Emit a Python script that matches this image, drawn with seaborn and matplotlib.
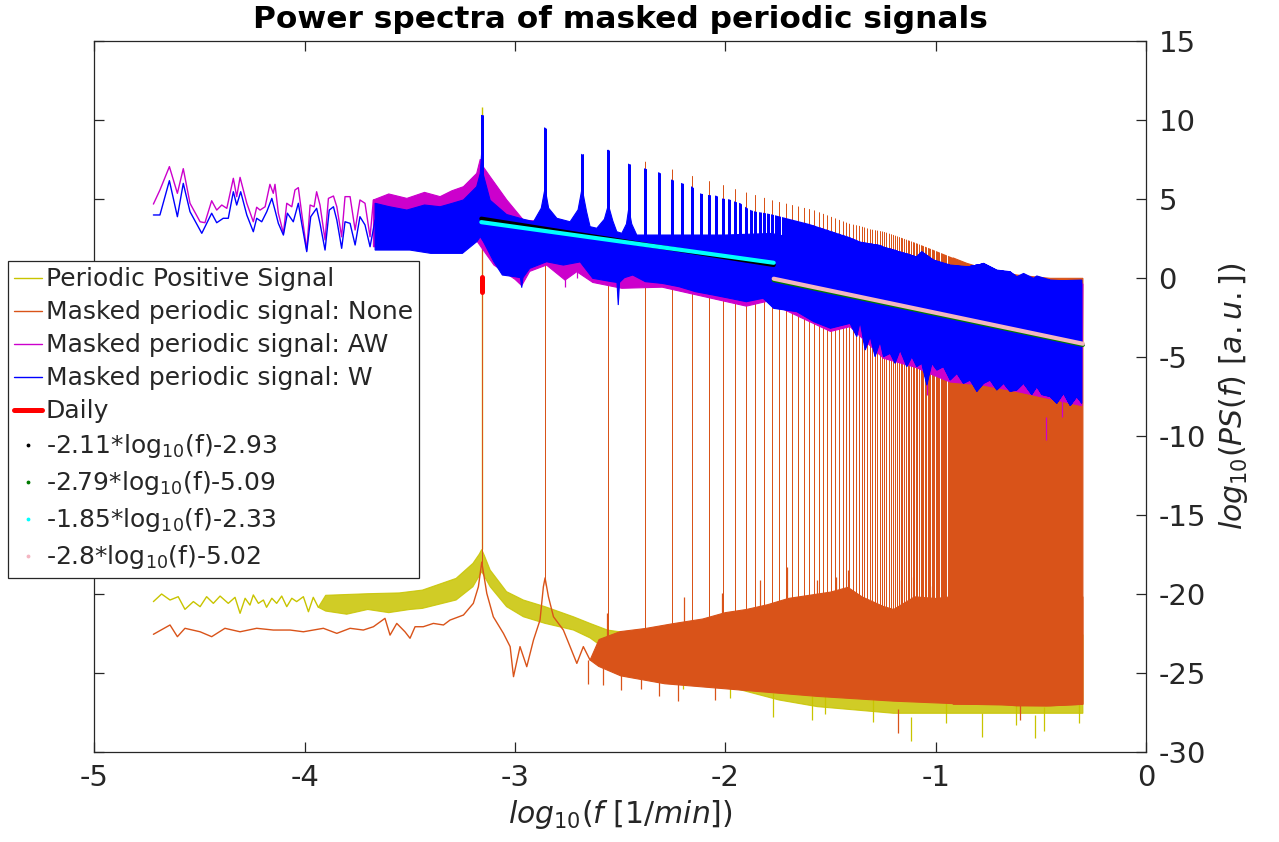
import numpy as np
import matplotlib
matplotlib.use("Agg")
import matplotlib.pyplot as plt
import seaborn as sns
from matplotlib.patches import Polygon
from matplotlib.lines import Line2D

# ---------------------------------------------------------------- data
# values (x = log10(f [1/min]), y = log10 PS)
daily_period_min = 1440  # one day in minutes -> fundamental spectral line

# --- Periodic Positive Signal (yellow)
pos_line_x = [-4.719, -4.680, -4.640, -4.601, -4.569, -4.529, -4.497, -4.466, -4.434, -4.402,
              -4.363, -4.331, -4.307, -4.283, -4.260, -4.244, -4.220, -4.196, -4.181, -4.156,
              -4.133, -4.109, -4.085, -4.061, -4.038, -4.006, -3.982, -3.959, -3.935]
pos_line_y = [-20.5, -20.02, -20.4, -20.19, -20.99, -20.5, -20.82, -20.19, -20.61, -20.15,
              -20.61, -20.23, -21.24, -20.29, -20.72, -20.08, -20.61, -20.4, -20.86, -20.29,
              -20.61, -20.15, -20.82, -20.29, -20.5, -20.19, -21.14, -20.23, -20.86]
pos_top_x = [-3.935, -3.90, -3.70, -3.55, -3.44, -3.28, -3.20, -3.17, -3.158, -3.145, -3.118,
             -3.04, -2.96, -2.857, -2.722, -2.643, -2.56, -2.40, -0.30]
pos_top_y = [-20.86, -20.1, -20.0, -19.95, -19.77, -19.03, -18.08, -17.5, -17.2, -17.6, -18.5,
             -19.87, -20.4, -20.82, -21.46, -21.88, -22.3, -22.6, -22.6]
pos_bot_x = [-3.935, -3.90, -3.80, -3.70, -3.60, -3.50, -3.44, -3.28, -3.20, -3.158, -3.118,
             -3.04, -2.96, -2.857, -2.722, -2.643, -2.56, -2.379, -2.107, -1.744, -1.562,
             -1.2, -0.837, -0.474, -0.30]
pos_bot_y = [-20.86, -21.1, -21.3, -21.0, -21.2, -21.0, -20.93, -20.4, -19.56, -18.6, -19.56,
             -20.82, -21.46, -21.88, -22.3, -22.8, -23.6, -24.41, -25.46, -26.73, -27.15,
             -27.57, -27.57, -27.57, -27.57]
pos_dip_x = [-2.45, -2.20, -1.98, -1.771, -1.59, -1.526, -1.30, -1.118, -0.95, -0.782, -0.62,
             -0.528, -0.483, -0.32]
pos_dip_y = [-25.2, -26.0, -26.6, -27.8, -28.0, -27.6, -28.1, -29.3, -28.2, -29.05, -28.3,
             -29.16, -28.7, -28.2]
pos_peak_k = [1]
pos_peak_top = [10.8]
pos_peak_base = [-17.2]

# --- Masked periodic signal: None (orange)
none_line_x = [-4.719, -4.640, -4.605, -4.569, -4.497, -4.442, -4.379, -4.307, -4.228, -4.149,
               -4.069, -4.006, -3.911, -3.847, -3.784, -3.721, -3.673, -3.618, -3.594, -3.562,
               -3.523, -3.499, -3.475, -3.436, -3.388, -3.340, -3.309, -3.245, -3.198, -3.174,
               -3.158, -3.134, -3.103, -3.055, -3.023, -3.007, -2.976, -2.944, -2.912, -2.881,
               -2.865, -2.857, -2.841, -2.817, -2.770, -2.738, -2.706, -2.675, -2.643]
none_line_y = [-22.57, -21.98, -22.72, -22.19, -22.41, -22.72, -22.19, -22.41, -22.19, -22.3,
               -22.3, -22.41, -22.19, -22.51, -22.19, -22.3, -22.09, -21.56, -22.62, -21.88,
               -22.41, -22.82, -22.09, -22.09, -21.88, -21.98, -21.67, -21.35, -20.61, -19.56,
               -18.0, -19.98, -21.46, -22.51, -23.35, -25.25, -23.35, -24.62, -22.93, -21.67,
               -19.56, -19.0, -20.19, -21.46, -22.3, -23.35, -24.41, -23.35, -24.2]
none_top_x = [-2.643, -2.60, -2.50, -2.379, -2.25, -2.107, -2.0, -1.90, -1.80, -1.70, -1.60,
              -1.50, -1.417, -1.35, -1.25, -1.2, -1.10, -1.0, -0.927, -0.30]
none_top_y = [-24.2, -22.9, -22.4, -22.2, -21.9, -21.6, -21.2, -21.0, -20.7, -20.3, -20.1,
              -19.9, -19.6, -20.2, -20.8, -21.0, -20.2, -20.3, -20.2, -20.2]
none_bot_x = [-2.643, -2.602, -2.497, -2.288, -1.926, -1.562, -1.2, -0.837, -0.474, -0.30]
none_bot_y = [-24.2, -24.6, -25.2, -25.7, -26.1, -26.5, -26.8, -27.0, -27.1, -27.0]
none_dip_x = [-2.652, -2.58, -2.497, -2.40, -2.316, -2.225, -2.05, -1.181, -0.60]
none_dip_y = [-25.7, -25.8, -26.1, -26.0, -26.5, -26.8, -26.7, -28.8, -28.0]
none_tooth_x = [-2.561, -2.198, -2.016, -1.835, -1.708, -1.563, -1.472, -1.417, -1.163, -1.109,
                -1.018]
none_tooth_y = [-21.25, -20.19, -19.98, -19.14, -18.29, -19.14, -18.92, -18.5, -19.14, -18.92,
                -19.5]
none_solid_x = [-0.917, -0.852, -0.772, -0.693, -0.614, -0.535, -0.455, -0.30]
none_solid_top = [1.25, 0.91, 0.59, 0.38, 0.17, 0.06, -0.04, -0.04]
none_solid_bot = [-27.0, -27.0, -27.0, -27.0, -27.1, -27.1, -27.1, -27.0]
# spectral lines at the fundamental and the even harmonics
none_peak_k = np.r_[1, np.arange(2, 176, 2)]
none_peak_env_x = [-3.25, -3.158, -2.857, -2.556, -2.380, -2.255, -2.158, -2.079, -2.012, -1.954,
                   -1.903, -1.857, -1.816, -1.778, -1.581, -1.407, -1.359, -1.311, -1.248, -1.2,
                   -1.09, -1.01, -0.931, -0.852, -0.772, -0.693, -0.614, -0.535, -0.455, -0.30]
none_peak_env_y = [10.2, 10.2, 9.0, 7.8, 7.34, 6.86, 6.44, 6.12, 5.87, 5.61,
                   5.40, 5.23, 5.06, 4.90, 4.28, 3.40, 3.27, 3.06, 2.91, 2.70,
                   2.17, 1.75, 1.33, 0.91, 0.59, 0.38, 0.17, 0.06, -0.04, -0.04]
none_peak_base_x = [-3.25, -3.17, -3.158, -3.145, -2.90, -2.87, -2.857, -2.845, -2.643, -2.602,
                    -2.288, -1.926, -1.562, -1.2, -0.837, -0.474, -0.30]
none_peak_base_y = [-21.4, -19.8, -18.0, -19.8, -22.0, -20.5, -19.0, -20.5, -24.2, -24.41,
                    -25.46, -25.88, -26.31, -26.52, -26.73, -26.94, -26.73]

# --- Masked periodic signal: AW (magenta)
aw_line_x = [-4.719, -4.688, -4.643, -4.605, -4.577, -4.545, -4.497, -4.474, -4.442, -4.418,
             -4.394, -4.370, -4.339, -4.323, -4.307, -4.275, -4.244, -4.228, -4.212, -4.188,
             -4.165, -4.149, -4.141, -4.125, -4.101, -4.085, -4.061, -4.046, -4.030, -4.014,
             -3.990, -3.974, -3.955, -3.943, -3.927, -3.903, -3.887, -3.863, -3.847, -3.824,
             -3.808, -3.784, -3.760, -3.737, -3.713, -3.689, -3.673]
aw_line_y = [4.66, 5.55, 7.03, 5.34, 6.9, 4.71, 3.54, 3.48, 4.87, 4.28,
             4.6, 4.39, 6.29, 5.13, 6.35, 4.71, 3.54, 4.46, 4.28, 4.49,
             5.91, 5.34, 5.91, 4.08, 2.81, 4.71, 4.49, 5.55, 5.70, 4.08,
             1.75, 4.6, 4.49, 5.44, 4.6, 2.39, 5.02, 5.17, 4.49, 2.59,
             5.13, 5.13, 3.02, 4.92, 4.71, 2.59, 4.92]
aw_top_x = [-3.673, -3.60, -3.514, -3.43, -3.356, -3.30, -3.245, -3.182, -3.165, -3.150, -3.118,
            -3.039, -2.96, -2.912, -2.85, -2.70, -2.40, -2.00, -1.78, -1.40, -0.93, -0.30]
aw_top_y = [4.92, 5.3, 5.02, 5.4, 5.13, 5.5, 5.76, 6.6, 7.5, 7.0, 6.39,
            4.92, 3.65, 3.6, 3.5, 3.0, 2.4, 2.2, 2.0, 1.0, 0.4, -0.4]
aw_bot_x = [-3.673, -3.40, -3.25, -3.18, -3.10, -3.00, -2.968, -2.93, -2.85, -2.762, -2.706,
            -2.63, -2.492, -2.30, -2.10, -1.90, -1.803, -1.66, -1.50, -1.407, -1.248, -1.089,
            -1.042, -0.931, -0.772, -0.614, -0.476, -0.305]
aw_bot_y = [1.96, 1.75, 1.9, 2.3, 0.8, -0.1, -0.5, 0.4, 0.8, -0.15, 0.38,
            -0.3, -0.67, -0.6, -1.2, -1.8, -1.5, -2.4, -3.4, -3.1, -5.1, -5.7,
            -6.0, -6.6, -6.8, -7.2, -7.6, -8.1]
aw_dip_x = [-2.762, -2.706, -1.042, -0.476, -0.40]
aw_dip_y = [-0.6, 0.0, -7.4, -10.3, -8.8]

# --- Masked periodic signal: W (blue)
w_line_x = [-4.719, -4.688, -4.643, -4.605, -4.577, -4.545, -4.489, -4.442, -4.418, -4.387,
            -4.363, -4.339, -4.323, -4.304, -4.275, -4.244, -4.228, -4.204, -4.180, -4.156,
            -4.141, -4.125, -4.101, -4.082, -4.054, -4.030, -4.014, -3.990, -3.971, -3.943,
            -3.927, -3.903, -3.883, -3.863, -3.847, -3.824, -3.808, -3.784, -3.760, -3.737,
            -3.713, -3.689, -3.665]
w_line_y = [3.97, 3.97, 6.14, 3.86, 5.97, 4.18, 2.81, 4.08, 3.48, 3.76,
            3.76, 5.44, 4.60, 5.44, 3.97, 2.91, 3.76, 3.54, 4.18, 5.02,
            4.28, 3.44, 2.70, 4.08, 3.54, 4.71, 3.44, 1.65, 3.86, 4.39,
            3.44, 1.75, 4.28, 4.49, 3.65, 1.86, 3.54, 3.44, 2.07, 3.86,
            3.34, 1.96, 3.65]
w_top_x = [-3.665, -3.60, -3.514, -3.43, -3.356, -3.30, -3.245, -3.182, -3.165, -3.158, -3.150,
           -3.118, -3.04, -2.96, -2.912, -2.875, -2.857, -2.84, -2.801, -2.738, -2.70, -2.681,
           -2.66, -2.643, -2.611, -2.575, -2.556, -2.535, -2.516, -2.492, -2.47, -2.459, -2.445,
           -2.421, -2.20, -2.00, -1.78, -1.60, -1.407, -1.30, -1.216, -1.193, -1.169, -1.137,
           -1.09, -1.066, -1.01, -0.931, -0.852, -0.804, -0.772, -0.709, -0.646, -0.614,
           -0.582, -0.535, -0.519, -0.455, -0.40, -0.305]
w_top_y = [4.71, 4.5, 4.28, 4.6, 4.49, 4.7, 4.92, 5.76, 6.6, 8.0, 6.5,
           4.9, 4.0, 3.7, 3.54, 4.4, 5.66, 4.4, 3.76, 3.54, 4.3, 5.66,
           4.2, 3.23, 3.13, 3.7, 4.6, 3.6, 2.91, 2.81, 3.4, 4.39, 3.4,
           2.7, 2.7, 2.7, 2.8, 2.3, 1.7, 1.4, 1.5, 1.75, 1.54, 1.4,
           1.33, 1.65, 1.12, 0.80, 0.70, 0.70, 0.91, 0.48, 0.38, 0.06,
           0.27, -0.04, 0.11, -0.15, -0.19, -0.15]
w_bot_x = [-3.665, -3.50, -3.40, -3.25, -3.18, -3.165, -3.15, -3.10, -3.06, -3.00, -2.974,
           -2.968, -2.962, -2.93, -2.85, -2.77, -2.69, -2.63, -2.54, -2.515, -2.509, -2.503,
           -2.48, -2.44, -2.38, -2.30, -2.22, -2.14, -2.06, -1.98, -1.90, -1.82, -1.77, -1.66,
           -1.58, -1.50, -1.407, -1.375, -1.359, -1.335, -1.311, -1.288, -1.264, -1.248,
           -1.216, -1.193, -1.169, -1.137, -1.113, -1.09, -1.066, -1.042, -1.018, -0.994,
           -0.963, -0.931, -0.899, -0.868, -0.836, -0.804, -0.772, -0.741, -0.709, -0.677,
           -0.646, -0.614, -0.582, -0.543, -0.519, -0.495, -0.455, -0.424, -0.392, -0.36,
           -0.329, -0.305]
w_bot_y = [1.75, 1.75, 1.54, 1.54, 2.3, 2.6, 2.28, 1.0, 0.17, 0.06, 0.0,
           -0.63, 0.0, 0.59, 1.01, 0.8, 1.0, -0.04, -0.25, -0.3, -1.73, -0.3,
           0.0, 0.17, -0.25, -0.36, -0.57, -0.89, -1.09, -1.3, -1.52, -1.3, -1.94, -2.15,
           -2.78, -3.2, -2.89, -3.73, -2.78, -4.58, -3.73, -5.0, -4.05, -5.0,
           -4.79, -5.42, -4.58, -5.63, -5.0, -5.63, -5.42, -6.8, -5.42, -5.85,
           -5.63, -6.48, -6.06, -6.69, -6.48, -7.2, -6.69, -6.48, -7.11, -6.69,
           -7.2, -7.11, -6.69, -7.4, -6.9, -7.4, -7.53, -7.95, -7.32, -8.1,
           -7.53, -7.95]
w_peak_k = np.arange(1, 721)
w_peak_env_x = [-3.25, -3.158, -2.857, -2.681, -2.556, -2.459, -2.380, -2.313, -2.255, -2.204,
                -2.158, -2.117, -2.079, -2.044, -2.012, -1.982, -1.954, -1.928, -1.903, -1.880,
                -1.857, -1.816, -1.778, -1.60, -1.407, -1.359, -1.311, -1.264, -1.248, -1.216,
                -1.193, -1.169, -1.137, -1.09, -1.066, -1.01, -0.931, -0.852, -0.772, -0.709,
                -0.646, -0.614, -0.535, -0.455, -0.40, -0.305]
w_peak_env_y = [10.3, 10.3, 9.5, 7.8, 8.1, 7.2, 6.9, 6.65, 6.2, 5.97,
                5.76, 5.32, 5.23, 5.19, 5.0, 4.96, 4.81, 4.71, 4.46, 4.28,
                4.18, 4.1, 4.0, 3.4, 2.55, 2.28, 2.17, 2.07, 1.96, 1.85,
                1.75, 1.65, 1.54, 1.33, 1.65, 1.12, 0.80, 0.70, 0.91, 0.48,
                0.38, 0.06, -0.04, -0.15, -0.19, -0.15]

# --- Daily marker and power-law fits
daily_y = [-0.9, 0.05]
fit_slopes = [-2.11, -2.79, -1.85, -2.8]
fit_intercepts = [-2.93, -5.09, -2.33, -5.02]
fit_x_start = [-3.16, -1.77, -3.16, -1.77]
fit_x_end = [-1.77, -0.30, -1.77, -0.30]

series_labels = ["Periodic Positive Signal", "Masked periodic signal: None",
                 "Masked periodic signal: AW", "Masked periodic signal: W", "Daily"]
fit_labels = [f"{s:g}*log$_{{10}}$(f){b:g}" for s, b in zip(fit_slopes, fit_intercepts)]

x_ticks = [-5, -4, -3, -2, -1, 0]
y_ticks = [-30, -25, -20, -15, -10, -5, 0, 5, 10, 15]

# ---------------------------------------------------------------- style
C_POS = "#C8C400"
C_NONE = "#D95319"
C_AW = "#CC00CC"
C_W = "#0000FF"
C_DAILY = "#FF0000"
FIT_COLORS = ["#000000", "#007A00", "#00FFFF", "#F4B6C2"]
AX_COL = "#262626"

sns.set_theme(style="white")
plt.rcParams["font.family"] = ["DejaVu Sans"]
plt.rcParams["mathtext.fontset"] = "dejavusans"
plt.rcParams["axes.unicode_minus"] = False

W, H = 1279, 842
fig = plt.figure(figsize=(W / 100, H / 100), dpi=100)
ax = fig.add_axes([94.3 / W, 1 - 751.7 / H, (1146 - 94.3) / W, (751.7 - 40.7) / H])
ax.set_facecolor("white")


def band(ux, uy, lx, ly, color, z, alpha=1.0):
    verts = list(zip(ux, uy)) + list(zip(lx[::-1], ly[::-1]))
    ax.add_patch(Polygon(verts, closed=True, facecolor=color, edgecolor=color,
                         linewidth=0.8, zorder=z, alpha=alpha))


def spikes(k, top_x, top_y, base_x, base_y, color, lw, z):
    xs = np.log10(np.asarray(k, dtype=float) / daily_period_min)
    verts = list(zip(top_x, top_y)) + list(zip(base_x[::-1], base_y[::-1]))
    clip = Polygon(verts, closed=True, transform=ax.transData)
    lc = ax.vlines(xs, -40, 20, colors=color, linewidth=lw, zorder=z, antialiased=False)
    lc.set_clip_path(clip)


def ticks_v(x, y, color, z, depth):
    # thin vertical excursions beyond an envelope (depth > 0: down-going, < 0: up-going)
    y = np.asarray(y, dtype=float)
    ax.vlines(x, y, y + depth, colors=color, linewidth=0.9, zorder=z)


def line(x, y, color, z, lw=1.0):
    sns.lineplot(x=x, y=y, color=color, linewidth=lw, ax=ax, estimator=None,
                 sort=False, legend=False, zorder=z)


# yellow
line(pos_line_x, pos_line_y, C_POS, 2)
band(pos_top_x, pos_top_y, pos_bot_x, pos_bot_y, C_POS, 2, alpha=0.85)
ticks_v(pos_dip_x, pos_dip_y, C_POS, 2, 1.5)
ax.vlines(np.log10(np.asarray(pos_peak_k, float) / daily_period_min), pos_peak_base, pos_peak_top,
          colors=C_POS, linewidth=1.0, zorder=2)

# orange
line(none_line_x, none_line_y, C_NONE, 3)
band(none_top_x, none_top_y, none_bot_x, none_bot_y, C_NONE, 3)
band(none_solid_x, none_solid_top, none_solid_x, none_solid_bot, C_NONE, 3)
ticks_v(none_dip_x, none_dip_y, C_NONE, 3, 1.5)
ticks_v(none_tooth_x, none_tooth_y, C_NONE, 3, -2.0)
spikes(none_peak_k, none_peak_env_x, none_peak_env_y, none_peak_base_x, none_peak_base_y,
       C_NONE, 0.5, 3)

# magenta
line(aw_line_x, aw_line_y, C_AW, 4)
band(aw_top_x, aw_top_y, aw_bot_x, aw_bot_y, C_AW, 4)
ticks_v(aw_dip_x, aw_dip_y, C_AW, 4, 1.5)

# blue
line(w_line_x, w_line_y, C_W, 5)
band(w_top_x, w_top_y, w_bot_x, w_bot_y, C_W, 5)
spikes(w_peak_k, w_peak_env_x, w_peak_env_y, w_bot_x, w_bot_y, C_W, 1.0, 5)

# daily marker
x_daily = np.log10(1.0 / daily_period_min)
sns.lineplot(x=[x_daily, x_daily], y=daily_y, color=C_DAILY, linewidth=3.6, ax=ax,
             estimator=None, sort=False, legend=False, zorder=6)

# fits
for s, b, x0, x1, c in zip(fit_slopes, fit_intercepts, fit_x_start, fit_x_end, FIT_COLORS):
    xx = np.array([x0, x1])
    sns.lineplot(x=xx, y=s * xx + b, color=c, linewidth=3.0, ax=ax, estimator=None,
                 sort=False, legend=False, zorder=7)

# ---------------------------------------------------------------- axes
ax.set_xlim(-5, 0)
ax.set_ylim(-30, 15)
ax.set_xticks(x_ticks)
ax.set_xticklabels([str(t) for t in x_ticks])
ax.set_yticks(y_ticks)
ax.set_yticklabels([str(t) for t in y_ticks])
ax.tick_params(axis="both", which="both", direction="in", length=7.5, width=0.9,
               color=AX_COL, labelcolor=AX_COL, labelsize=21)
ax.tick_params(axis="x", top=True, bottom=True, pad=9)
ax.tick_params(axis="y", left=True, right=True, labelleft=False, labelright=True, pad=9)
for sp in ax.spines.values():
    sp.set_visible(True)
    sp.set_color(AX_COL)
    sp.set_linewidth(0.9)

ax.set_title("Power spectra of masked periodic signals", fontsize=22.5, fontweight="bold",
             color="black", pad=9)
ax.set_xlabel(r"$\mathit{log_{10}(f\ [1/min])}$", fontsize=21.5, color=AX_COL, labelpad=4)
ax.yaxis.set_label_position("right")
ax.set_ylabel(r"$\mathit{log_{10}(PS(f)\ [a.u.])}$", fontsize=21.5, color=AX_COL, labelpad=8)

# ---------------------------------------------------------------- legend
handles = [Line2D([], [], color=C_POS, lw=1.0),
           Line2D([], [], color=C_NONE, lw=1.0),
           Line2D([], [], color=C_AW, lw=1.0),
           Line2D([], [], color=C_W, lw=1.0),
           Line2D([], [], color=C_DAILY, lw=3.6)]
handles += [Line2D([], [], color=c, marker=".", linestyle="None", markersize=3.5)
            for c in FIT_COLORS]
leg = fig.legend(handles, series_labels + fit_labels, loc="upper left",
                 bbox_to_anchor=(8 / W, 1 - 261 / H), bbox_transform=fig.transFigure,
                 fontsize=18, frameon=True, fancybox=False, framealpha=1,
                 edgecolor=AX_COL, borderpad=0.25, handlelength=1.1, handletextpad=0.15,
                 labelspacing=0.36, borderaxespad=0)
leg.get_frame().set_linewidth(0.9)

fig.savefig("out.png", dpi=100, facecolor="white")
